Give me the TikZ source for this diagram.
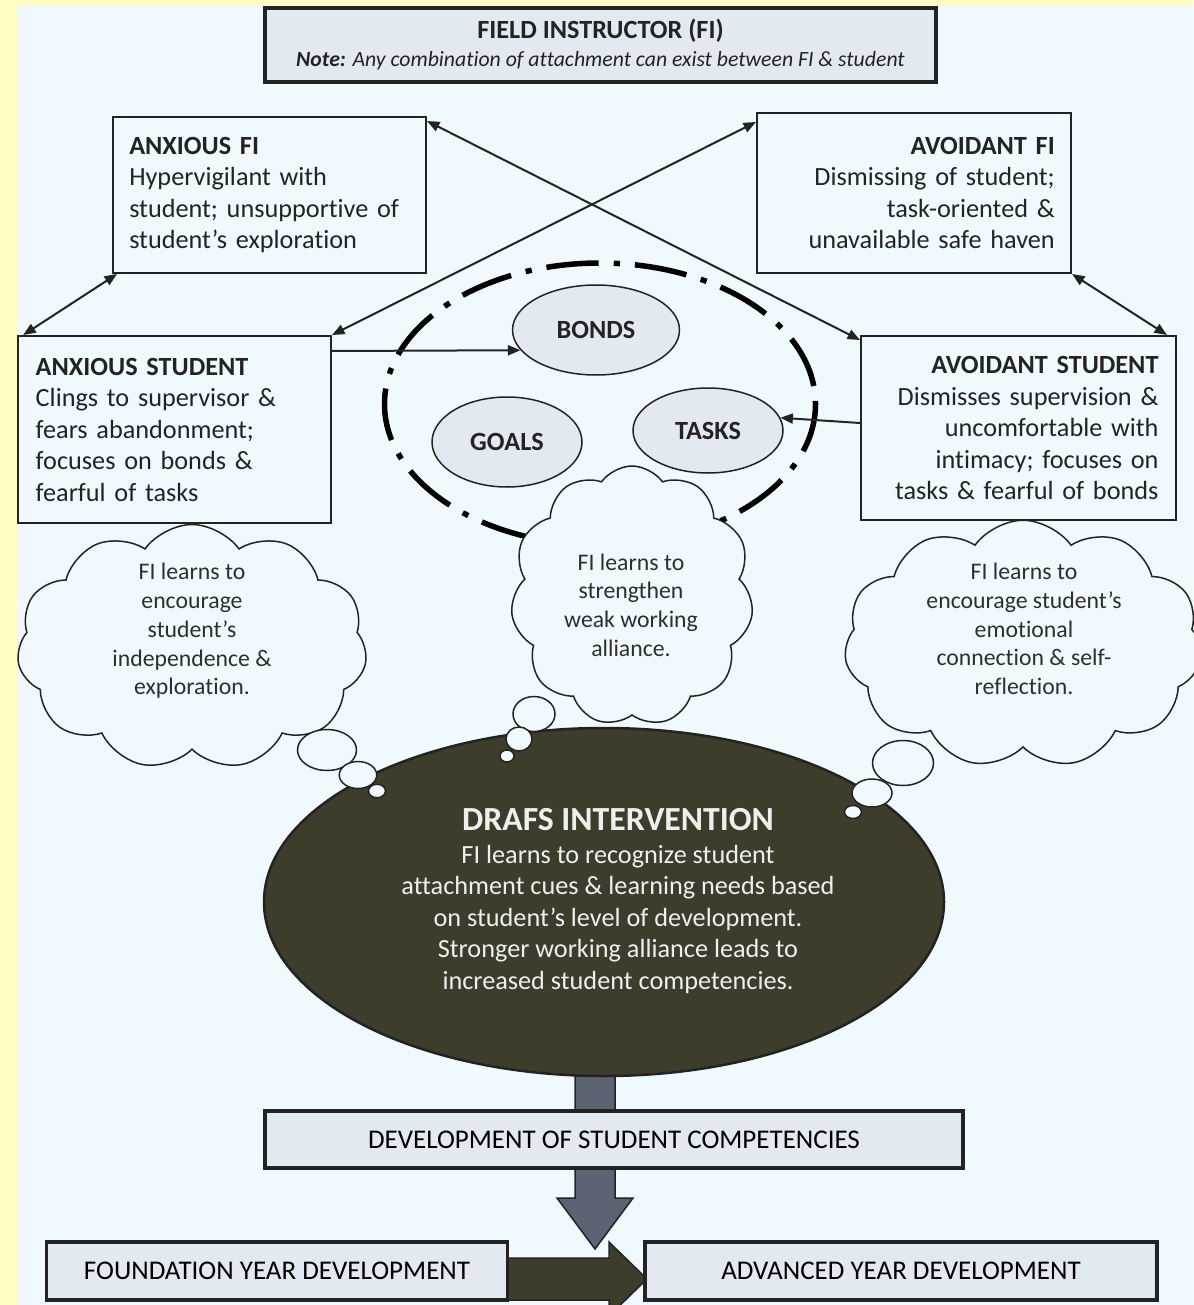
\documentclass[tikz,border=0pt]{standalone}
\usepackage{fontspec}
\setmainfont{Carlito}[Ligatures=NoCommon]
\usetikzlibrary{arrows.meta,shapes.geometric,shapes.symbols}

\definecolor{pagebg}{RGB}{240,250,254}
\definecolor{edgeyellow}{RGB}{255,252,196}
\definecolor{boxgray}{RGB}{227,233,241}
\definecolor{inkdark}{RGB}{35,35,35}
\definecolor{drafsolive}{RGB}{62,61,44}
\definecolor{slatearrow}{RGB}{92,99,114}

\tikzset{
    attbox/.style={draw=inkdark, line width=0.8pt, fill=pagebg, inner xsep=6.5pt, inner ysep=0pt, text=inkdark, font=\fontsize{10.5}{12.6}\selectfont},
    bandbox/.style={draw=inkdark, line width=1.3pt, fill=boxgray, inner sep=0pt, text=black, font=\fontsize{10.8}{13}\selectfont},
    allyoval/.style={ellipse, draw=inkdark, line width=0.6pt, fill=boxgray, inner sep=0pt, text=inkdark, font=\bfseries\fontsize{10.5}{12.6}\selectfont},
    thought/.style={cloud, cloud puffs=11, cloud puff arc=110, cloud ignores aspect, draw=inkdark, line width=0.6pt, fill=pagebg, inner sep=0pt},
    thoughttext/.style={align=center, text=inkdark!95, font=\fontsize{9.5}{11.5}\selectfont},
    bubble/.style={ellipse, draw=inkdark, line width=0.6pt, fill=pagebg, inner sep=0pt},
    link/.style={draw=inkdark, line width=0.8pt}
}

\begin{document}
\begin{tikzpicture}[x=0.4pt, y=-0.4pt, >={Triangle[length=5pt,width=4pt]}]
    \fill[edgeyellow] (0,0) rectangle (1193,1305);
    \fill[pagebg] (18,6) rectangle (1193,1305);
    \useasboundingbox (0,0) rectangle (1193,1305);

    \coordinate (stemtop) at (595,1060);
    \coordinate (stemtip) at (595,1249);
    \filldraw[fill=slatearrow, draw=inkdark, line width=0.6pt] (stemtop) ++(-20,0) -- ++(40,0) -- ++(0,138) -- ++(18,0) -- (stemtip) -- ++(-38,-51) -- ++(18,0) -- cycle;
    \coordinate (flowtail) at (505,1279);
    \coordinate (flowtip) at (647,1279);
    \filldraw[fill=drafsolive, draw=inkdark, line width=0.6pt] (flowtail) ++(0,-21) -- ++(104,0) -- ++(0,-16) -- (flowtip) -- ++(-38,37) -- ++(0,-16) -- ++(-104,0) -- cycle;

    \node[ellipse, fill=drafsolive, draw=inkdark, line width=1pt, minimum width=272pt, minimum height=139.2pt, inner sep=0pt] (drafs) at (604,902) {};
    \node[align=center, text=white!92!drafsolive, font=\fontsize{10.5}{12.6}\selectfont] (drafsnote) at (618,901) {{\fontsize{13.5}{16}\selectfont\bfseries DRAFS INTERVENTION}\\[0.6pt]
        FI learns to recognize student\\attachment cues \& learning needs based\\on student’s level of development.\\Stronger working alliance leads to\\increased student competencies.};

    \node[bandbox, minimum width=279.2pt, minimum height=22.8pt] (competence) at (614,1139.5) {DEVELOPMENT OF STUDENT COMPETENCIES};
    \node[bandbox, minimum width=184.4pt, minimum height=23.2pt] (foundation) at (277,1271) {FOUNDATION YEAR DEVELOPMENT};
    \node[bandbox, minimum width=204.8pt, minimum height=23.2pt] (advanced) at (901,1271) {ADVANCED YEAR DEVELOPMENT};

    \node[bandbox, minimum width=268.4pt, minimum height=29.6pt, align=center, text=inkdark, font=\fontsize{10.5}{11.2}\selectfont] (fi) at (600.5,45) {\textbf{FIELD INSTRUCTOR (FI)}\\
        {\fontsize{8.7}{11.2}\selectfont\textbf{\textit{Note:}}\textit{ Any combination of attachment can exist between FI \& student}}};

    \node[attbox, minimum width=125.2pt, minimum height=62.4pt, text width=112.2pt, align=left] (anxfi) at (269.5,195) {\textbf{ANXIOUS FI}\\Hypervigilant with\\student; unsupportive of\\student’s exploration};
    \node[attbox, minimum width=125.6pt, minimum height=64pt, text width=112.6pt, align=right] (avdfi) at (914,193) {\textbf{AVOIDANT FI}\\Dismissing of student;\\task-oriented \& \\unavailable safe haven};
    \node[attbox, minimum width=125.2pt, minimum height=74.8pt, text width=111pt, align=left] (anxst) at (174.5,429.5) {\textbf{ANXIOUS STUDENT}\\Clings to supervisor \&\\fears abandonment;\\focuses on bonds \&\\fearful of tasks};
    \node[attbox, minimum width=126pt, minimum height=73.6pt, text width=112pt, align=right] (avdst) at (1018.5,428) {\textbf{AVOIDANT STUDENT}\\Dismisses supervision \&\\uncomfortable with\\intimacy; focuses on\\tasks \& fearful of bonds};

    \node[ellipse, draw=black, line width=2.2pt, dash pattern=on 21pt off 6pt on 2.5pt off 6pt, dash phase=28.25pt, minimum width=172.4pt, minimum height=112.8pt, inner sep=0pt] (alliance) at (600,404) {};
    \node[allyoval, minimum width=66.8pt, minimum height=36pt] (bonds) at (596,330) {BONDS};
    \node[allyoval, minimum width=60pt, minimum height=36pt] (goals) at (507,442) {GOALS};
    \node[allyoval, minimum width=60pt, minimum height=34pt] (tasks) at (708,430.5) {TASKS};

    \draw[link, <->] ([xshift=2pt]anxfi.south west) -- ([xshift=2.5pt]anxst.north west);
    \draw[link, <->] (avdfi.south east) -- ([xshift=-4pt]avdst.north east);
    \draw[link, <->] (anxst.north east) -- ([yshift=-4pt]avdfi.north west);
    \draw[link, <->] ([yshift=-2pt]anxfi.north east) -- ([yshift=-2pt]avdst.north west);
    \draw[link, ->] ([yshift=-6.4pt]anxst.north east) -- (bonds.195);
    \draw[link, ->] ([yshift=2pt]avdst.west) -- (tasks.10);

    \node[thought, minimum width=140pt, minimum height=98pt] (leftcloud) at (192,647) {};
    \node[thoughttext] (lefttext) at (192,631) {FI learns to\\encourage\\student’s\\independence \&\\exploration.};
    \node[thought, minimum width=97pt, minimum height=104pt] (midcloud) at (632,596) {};
    \node[thoughttext] (midtext) at (631,605) {FI learns to\\strengthen\\weak working\\alliance.};
    \node[thought, minimum width=143pt, minimum height=99pt] (rightcloud) at (1023,644) {};
    \node[thoughttext] (righttext) at (1024,629) {FI learns to\\encourage student’s\\emotional\\connection \& self-\\reflection.};

    \node[bubble, minimum width=23.6pt, minimum height=16.4pt] (leftbig) at (327,750) {};
    \node[bubble, minimum width=15pt, minimum height=10.8pt] (leftmid) at (358,775) {};
    \node[bubble, minimum width=6.8pt, minimum height=5.4pt] (leftdot) at (377,791) {};
    \node[bubble, minimum width=16.8pt, minimum height=14pt] (midbig) at (534,714) {};
    \node[bubble, minimum width=10.4pt, minimum height=9.6pt] (midmid) at (519,739) {};
    \node[bubble, minimum width=5.6pt, minimum height=4.8pt] (middot) at (507,756) {};
    \node[bubble, minimum width=24.4pt, minimum height=18pt] (rightbig) at (903,763) {};
    \node[bubble, minimum width=16pt, minimum height=11.2pt] (rightmid) at (872,793) {};
    \node[bubble, minimum width=6.8pt, minimum height=5.2pt] (rightdot) at (853,812) {};
\end{tikzpicture}
\end{document}
